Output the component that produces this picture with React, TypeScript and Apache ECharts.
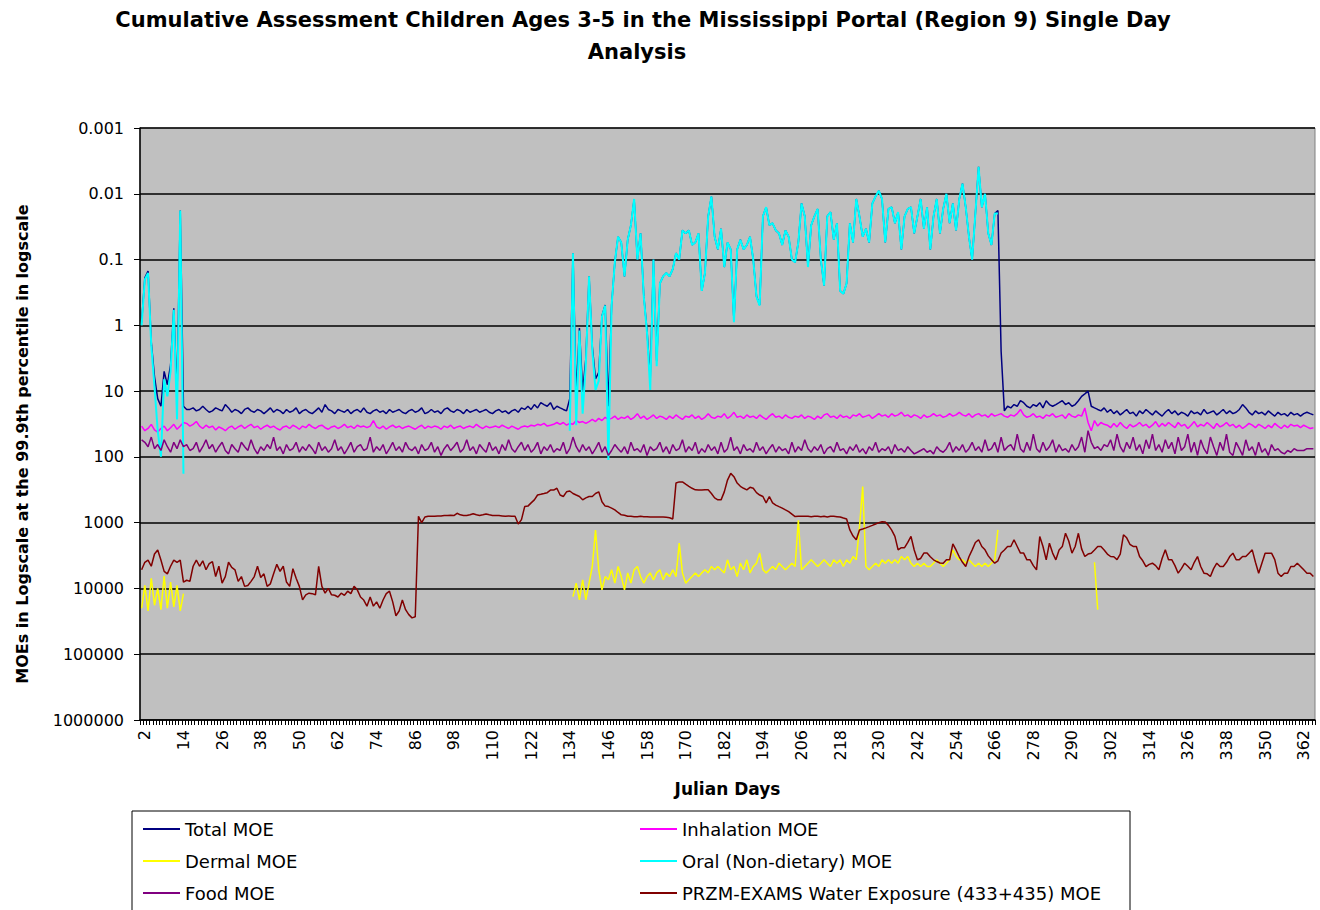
import React, { useEffect, useRef } from "react";
import * as echarts from "echarts";

// ---------- categories ----------
const days: string[] = Array.from({ length: 365 }, (_, i) => String(i + 1));

const gap = (n: number) => Array(n).fill(null);

// ---------- Total MOE ----------
const totalEarly = [0.9, 0.19, 0.15, 1.8, 6, 13, 17, 5, 8, 4, 0.55, 12, 0.018, 17, 19]; // days 1-15
const totalA = [ // days 16-133
  19, 18, 20, 19, 17, 19, 21, 20, 18, 19,
  20, 16, 18, 21, 19, 20, 22, 19, 18, 20,
  21, 19, 20, 22, 20, 18, 21, 19, 20, 22,
  19, 21, 20, 18, 22, 20, 19, 21, 22, 20,
  18, 21, 16, 19, 20, 22, 19, 20, 21, 19,
  22, 20, 19, 21, 18, 21, 22, 20, 19, 21,
  20, 22, 19, 21, 20, 19, 21, 22, 20, 19,
  21, 20, 18, 22, 21, 19, 21, 20, 22, 19,
  18, 20, 21, 19, 20, 22, 19, 21, 20, 19,
  21, 20, 19, 21, 22, 20, 19, 21, 20, 22,
  20, 19, 21, 18, 19, 17, 19, 16, 18, 15,
  16, 17, 15, 19, 17, 18, 19, 20,
];
const totalMid = [ // days 134-268
  13, 0.08, 12, 1.1, 10, 3.2, 0.18, 2.1, 6.5, 5.2,
  0.72, 0.49, 17, 0.49, 0.11, 0.045, 0.055, 0.18, 0.05, 0.03,
  0.012, 0.1, 0.04, 0.36, 1.2, 6.5, 0.1, 3.5, 0.23, 0.18,
  0.16, 0.18, 0.14, 0.08, 0.1, 0.036, 0.04, 0.036, 0.06, 0.055,
  0.04, 0.3, 0.16, 0.022, 0.011, 0.045, 0.07, 0.034, 0.13, 0.055,
  0.07, 0.86, 0.07, 0.05, 0.07, 0.06, 0.045, 0.1, 0.36, 0.49,
  0.022, 0.016, 0.03, 0.028, 0.036, 0.04, 0.06, 0.036, 0.045, 0.1,
  0.11, 0.055, 0.014, 0.022, 0.13, 0.03, 0.022, 0.017, 0.1, 0.25,
  0.022, 0.019, 0.05, 0.028, 0.3, 0.33, 0.23, 0.028, 0.055, 0.012,
  0.022, 0.045, 0.034, 0.055, 0.014, 0.011, 0.009, 0.012, 0.055, 0.017,
  0.016, 0.028, 0.019, 0.07, 0.022, 0.017, 0.016, 0.04, 0.022, 0.012,
  0.034, 0.016, 0.07, 0.022, 0.012, 0.04, 0.017, 0.01, 0.028, 0.014,
  0.036, 0.012, 0.007, 0.016, 0.045, 0.1, 0.02, 0.0039, 0.016, 0.01,
  0.04, 0.06, 0.02, 0.018, 2.5,
];
const totalLate = [ // days 269-365
  20, 17, 18, 16, 17, 14, 15, 17, 18, 16,
  17, 15, 18, 14, 16, 17, 16, 15, 14, 16,
  15, 17, 16, 14, 12, 11, 10, 17, 18, 19,
  20, 18, 21, 19, 22, 20, 23, 21, 19, 22,
  21, 24, 20, 22, 19, 21, 23, 20, 22, 24,
  21, 19, 22, 20, 23, 21, 22, 24, 20, 22,
  21, 23, 19, 22, 21, 20, 23, 21, 19, 22,
  20, 22, 21, 19, 16, 18, 21, 23, 20, 22,
  21, 23, 20, 22, 24, 21, 23, 22, 24, 21,
  23, 22, 24, 22, 21, 22, 23,
];

// ---------- Inhalation MOE (days 1-365) ----------
const inhalation = [
  34, 40, 37, 32, 39, 42, 37, 34, 40, 36,
  32, 38, 34, 30, 31, 34, 32, 29, 34, 37,
  33, 36, 34, 39, 35, 37, 40, 36, 34, 38,
  35, 33, 37, 34, 32, 36, 34, 38, 35, 33,
  36, 34, 37, 39, 35, 34, 37, 33, 35, 38,
  34, 36, 32, 35, 37, 34, 33, 36, 38, 35,
  34, 37, 35, 32, 36, 34, 37, 33, 35, 34,
  36, 34, 28, 35, 37, 34, 38, 35, 33, 36,
  34, 37, 35, 34, 36, 38, 35, 33, 37, 34,
  36, 34, 35, 38, 34, 36, 33, 37, 35, 34,
  37, 35, 34, 36, 32, 35, 37, 34, 36, 35,
  34, 36, 33, 35, 37, 34, 36, 38, 35, 34,
  35, 33, 34, 32, 33, 31, 34, 33, 32, 30,
  32, 30, 33, 31, 32, 28, 30, 29, 31, 29,
  27, 29, 26, 28, 25, 27, 26, 24, 27, 25,
  26, 24, 27, 25, 22, 26, 24, 27, 25, 23,
  26, 24, 25, 27, 24, 26, 23, 25, 27, 24,
  25, 23, 26, 24, 27, 25, 22, 25, 26, 24,
  25, 22, 26, 24, 21, 25, 24, 26, 23, 25,
  24, 26, 23, 25, 27, 24, 22, 25, 24, 26,
  23, 25, 26, 24, 25, 23, 26, 24, 25, 27,
  24, 26, 23, 22, 25, 24, 26, 23, 25, 24,
  26, 23, 24, 22, 25, 24, 23, 26, 24, 22,
  24, 23, 25, 22, 24, 23, 21, 24, 23, 25,
  23, 24, 26, 23, 25, 24, 22, 24, 23, 25,
  24, 22, 24, 23, 21, 23, 24, 22, 25, 23,
  22, 24, 23, 25, 22, 24, 23, 22, 24, 25,
  23, 24, 22, 19, 23, 25, 24, 22, 25, 24,
  26, 23, 24, 22, 25, 24, 23, 26, 22, 24,
  25, 23, 24, 18, 30, 40, 28, 34, 30, 32,
  33, 36, 31, 35, 30, 34, 37, 32, 35, 33,
  30, 34, 32, 36, 33, 29, 35, 31, 34, 30,
  33, 36, 30, 34, 32, 37, 33, 29, 35, 32,
  34, 30, 33, 37, 31, 35, 33, 30, 34, 32,
  36, 33, 37, 34, 31, 33, 36, 32, 34, 37,
  33, 36, 31, 34, 37, 33, 36, 32, 34, 33,
  36, 33, 35, 37, 36,
];

// ---------- Dermal MOE ----------
const dermalEarly = [20000, 9000, 22000, 7000, 18000, 10000, 21000, 6500, 20000, 8000, 19000, 9000, 22000, 12000]; // days 1-14
const dermalMid = [ // days 135-267
  13300, 8300, 14900, 7400, 14900, 8300, 4640, 1290, 5200, 10500,
  6600, 7400, 5200, 8300, 4640, 6600, 10500, 5800, 8300, 5200,
  4640, 6600, 8300, 6600, 5800, 7400, 5800, 5200, 7400, 5800,
  6600, 5200, 6600, 2050, 5800, 8300, 7400, 6600, 5800, 6600,
  5800, 5200, 5800, 4640, 5200, 4640, 5200, 5800, 3670, 5200,
  4640, 6600, 4130, 5200, 3670, 5800, 4640, 4130, 2900, 5200,
  5800, 5200, 4640, 5200, 4130, 4640, 5200, 4640, 4130, 4640,
  920, 5200, 4640, 4130, 3670, 4130, 4640, 4130, 3670, 4130,
  4640, 3670, 4130, 3670, 4640, 3670, 4130, 3270, 3670, 1160,
  282, 4640, 5200, 4640, 4130, 4640, 3670, 4130, 3670, 4130,
  3670, 4130, 3270, 3670, 3270, 4130, 4640, 4130, 4640, 4130,
  4640, 4640, 4130, 3670, 4130, 4640, 4130, 3670, 2590, 3270,
  3670, 3670, 4130, 3670, 4130, 4640, 4130, 4640, 4130, 4640,
  4130, 3670, 1290,
];
const dermalLate = [4000, 21000]; // days 297-298

// ---------- Oral (Non-dietary) MOE ----------
const oralEarly = [1.0, 0.2, 0.16, 2, 8.5, 40, 99, 6.6, 12, 5, 0.58, 27, 0.018, 180]; // days 1-14
const oralMid = [ // days 134-267
  40, 0.08, 33, 1.2, 22, 3.8, 0.18, 2.4, 9.6, 7,
  0.74, 0.5, 111, 0.5, 0.11, 0.045, 0.055, 0.18, 0.05, 0.03,
  0.012, 0.1, 0.04, 0.37, 1.3, 9.6, 0.1, 4.2, 0.23, 0.18,
  0.16, 0.18, 0.14, 0.08, 0.1, 0.036, 0.04, 0.036, 0.06, 0.055,
  0.04, 0.3, 0.16, 0.022, 0.011, 0.045, 0.07, 0.034, 0.13, 0.055,
  0.07, 0.9, 0.07, 0.05, 0.07, 0.06, 0.045, 0.1, 0.37, 0.5,
  0.022, 0.016, 0.03, 0.028, 0.036, 0.04, 0.06, 0.036, 0.045, 0.1,
  0.11, 0.055, 0.014, 0.022, 0.13, 0.03, 0.022, 0.017, 0.1, 0.25,
  0.022, 0.019, 0.05, 0.028, 0.3, 0.33, 0.23, 0.028, 0.055, 0.012,
  0.022, 0.045, 0.034, 0.055, 0.014, 0.011, 0.009, 0.012, 0.055, 0.017,
  0.016, 0.028, 0.019, 0.07, 0.022, 0.017, 0.016, 0.04, 0.022, 0.012,
  0.034, 0.016, 0.07, 0.022, 0.012, 0.04, 0.017, 0.01, 0.028, 0.014,
  0.036, 0.012, 0.007, 0.016, 0.045, 0.1, 0.02, 0.0039, 0.016, 0.01,
  0.04, 0.06, 0.02, 0.02,
];

// ---------- Food MOE (days 1-365) ----------
const food = [
  55, 60, 70, 50, 75, 65, 80, 55, 70, 85,
  60, 75, 55, 70, 65, 80, 75, 60, 85, 70,
  55, 75, 65, 85, 70, 60, 80, 90, 65, 75,
  85, 60, 70, 80, 55, 75, 90, 70, 80, 65,
  75, 50, 80, 70, 90, 65, 80, 75, 60, 85,
  70, 80, 65, 75, 90, 60, 80, 70, 85, 75,
  55, 80, 70, 90, 75, 60, 85, 70, 65, 80,
  75, 50, 85, 70, 80, 65, 90, 75, 60, 80,
  70, 85, 60, 75, 80, 70, 90, 65, 80, 75,
  60, 85, 70, 95, 75, 65, 80, 70, 60, 85,
  75, 55, 80, 70, 90, 65, 75, 85, 60, 80,
  70, 90, 65, 80, 55, 75, 85, 70, 60, 80,
  65, 85, 75, 60, 90, 70, 80, 65, 85, 75,
  80, 60, 90, 75, 50, 70, 85, 65, 80, 70,
  90, 75, 60, 85, 70, 95, 80, 65, 75, 85,
  70, 90, 60, 80, 75, 85, 65, 95, 70, 80,
  75, 60, 85, 70, 90, 65, 80, 75, 55, 85,
  70, 80, 60, 90, 75, 85, 65, 80, 70, 90,
  60, 85, 75, 50, 80, 70, 90, 65, 80, 75,
  85, 60, 80, 70, 90, 75, 65, 85, 70, 80,
  75, 90, 60, 85, 70, 80, 55, 75, 85, 70,
  80, 65, 90, 75, 70, 85, 60, 80, 75, 90,
  70, 80, 65, 85, 75, 90, 70, 80, 60, 85,
  75, 80, 70, 90, 65, 80, 75, 85, 70, 80,
  90, 85, 80, 75, 85, 80, 90, 70, 80, 85,
  75, 60, 85, 70, 80, 65, 85, 75, 60, 80,
  70, 85, 55, 80, 75, 60, 85, 50, 80, 70,
  65, 80, 45, 75, 85, 60, 80, 45, 75, 85,
  60, 80, 70, 55, 85, 65, 80, 75, 85, 65,
  80, 70, 50, 85, 40, 60, 75, 70, 80, 65,
  70, 55, 80, 45, 70, 85, 60, 75, 50, 80,
  65, 90, 55, 75, 45, 80, 65, 85, 55, 75,
  60, 90, 50, 80, 70, 45, 85, 60, 95, 55,
  75, 90, 50, 70, 95, 60, 80, 45, 85, 95,
  60, 75, 95, 55, 80, 70, 95, 60, 85, 75,
  95, 65, 80, 75, 85, 90, 80, 85, 75, 80,
  80, 80, 75, 75, 75,
];

// ---------- PRZM-EXAMS Water Exposure (days 1-365) ----------
const przm = [
  5200, 4000, 3700, 4600, 3000, 2600, 3700, 5500, 6000, 4600,
  3700, 4000, 3700, 8000, 7500, 7800, 4600, 3700, 4600, 3800,
  5200, 4200, 3900, 6600, 4600, 8300, 6600, 4000, 4800, 5200,
  7800, 6600, 9300, 9000, 7800, 6600, 4600, 6800, 6000, 9300,
  8500, 6000, 4300, 5500, 4600, 8000, 9300, 5000, 7000, 9300,
  14900, 12500, 11800, 12000, 12500, 4600, 9300, 11800, 10000, 12500,
  12700, 13500, 11800, 12700, 11000, 12000, 9300, 10500, 13500, 15000,
  18600, 13500, 18600, 16000, 20000, 15000, 12000, 11000, 16000, 26000,
  22000, 15000, 21000, 25000, 28000, 27000, 800, 1000, 820, 800,
  800, 800, 790, 790, 780, 780, 770, 780, 720, 760,
  780, 780, 760, 730, 760, 780, 760, 740, 760, 780,
  780, 780, 790, 800, 790, 800, 800, 1050, 900, 570,
  560, 500, 450, 380, 370, 360, 350, 320, 320, 300,
  380, 400, 340, 330, 360, 380, 400, 450, 420, 400,
  400, 360, 340, 480, 560, 570, 600, 640, 700, 760,
  770, 800, 800, 810, 810, 800, 810, 810, 820, 820,
  820, 820, 820, 830, 840, 880, 250, 240, 240, 260,
  280, 300, 317, 320, 320, 317, 317, 360, 420, 450,
  450, 340, 225, 178, 200, 250, 280, 300, 317, 290,
  300, 350, 380, 400, 500, 400, 500, 540, 570, 600,
  640, 680, 740, 807, 800, 800, 800, 800, 810, 800,
  800, 810, 800, 820, 800, 800, 810, 820, 850, 880,
  1290, 1600, 1820, 1290, 1250, 1200, 1150, 1100, 1050, 1000,
  970, 980, 1100, 1300, 1620, 2590, 2400, 2400, 2000, 1620,
  2600, 3670, 3500, 2900, 2900, 3300, 3670, 3900, 4100, 4130,
  3670, 3670, 2100, 2600, 3300, 4000, 4640, 3300, 2590, 2000,
  1820, 2300, 2590, 3200, 3670, 4130, 3800, 2900, 2600, 2300,
  2300, 1820, 2300, 2900, 2900, 3670, 3670, 4500, 5210, 1620,
  2300, 3670, 2050, 2900, 3670, 2600, 2310, 1450, 1900, 2910,
  2300, 1450, 2500, 3270, 3000, 2910, 2600, 2310, 2310, 2600,
  3000, 3270, 3300, 3650, 3000, 1530, 1700, 2130, 2300, 2310,
  3270, 3800, 4640, 4300, 4130, 4500, 5210, 3500, 2590, 3650,
  3650, 4500, 5860, 5000, 4130, 4600, 5210, 4000, 3270, 4640,
  5860, 6000, 6590, 5000, 4130, 4640, 4640, 4000, 3270, 2910,
  3650, 3650, 3270, 3270, 2910, 2590, 4000, 5860, 4130, 2910,
  2910, 2910, 3650, 5860, 6590, 5860, 5860, 4640, 4640, 4130,
  4640, 5210, 5860, 5860, 6590,
];

// ---------- tick labels ----------
const yTicks = ["0.001", "0.01", "0.1", "1", "10", "100", "1000", "10000", "100000", "1000000"];

const total = [...totalEarly, ...totalA, ...totalMid, ...totalLate];
const dermal = [...dermalEarly, ...gap(120), ...dermalMid, ...gap(29), ...dermalLate, ...gap(67)];
const oral = [...oralEarly, ...gap(119), ...oralMid, ...gap(98)];

const FONT = "'DejaVu Sans', Arial, sans-serif";

const seriesDefs = [
  { name: "Total MOE", data: total, color: "#000080", width: 1.5 },
  { name: "Inhalation MOE", data: inhalation, color: "#FF00FF", width: 1.5 },
  { name: "Dermal MOE", data: dermal, color: "#FFFF00", width: 1.5 },
  { name: "Oral (Non-dietary) MOE", data: oral, color: "#00FFFF", width: 2 },
  { name: "Food MOE", data: food, color: "#800080", width: 1.5 },
  { name: "PRZM-EXAMS Water Exposure (433+435) MOE", data: przm, color: "#800000", width: 1.5 },
];

export default function App() {
  const ref = useRef<HTMLDivElement>(null);
  useEffect(() => {
    if (!ref.current) return;
    const chart = echarts.init(ref.current, null, { renderer: "svg" });
    const legendCommon = {
      orient: "vertical" as const,
      top: 814,
      height: 96,
      padding: 0,
      itemWidth: 37,
      itemHeight: 2,
      itemGap: 2,
      icon: "rect",
      selectedMode: false,
      textStyle: { color: "#000", fontSize: 18, fontFamily: FONT, lineHeight: 30 },
    };
    chart.setOption({
      animation: false,
      backgroundColor: "#ffffff",
      textStyle: { fontFamily: FONT },
      grid: {
        left: 140,
        top: 128,
        width: 1175,
        height: 592,
        show: true,
        backgroundColor: "#c0c0c0",
        borderColor: "#808080",
        borderWidth: 1,
        containLabel: false,
      },
      legend: [
        { ...legendCommon, left: 143, data: ["Total MOE", "Dermal MOE", "Food MOE"] },
        {
          ...legendCommon,
          left: 640,
          data: ["Inhalation MOE", "Oral (Non-dietary) MOE", "PRZM-EXAMS Water Exposure (433+435) MOE"],
        },
      ],
      xAxis: {
        type: "category",
        data: days,
        boundaryGap: true,
        name: "Julian Days",
        nameLocation: "middle",
        nameGap: 60,
        nameTextStyle: { color: "#000", fontSize: 17, fontWeight: "bold", fontFamily: FONT },
        axisLine: { show: true, lineStyle: { color: "#000", width: 1.5 } },
        axisTick: { show: true, interval: 0, length: 5, lineStyle: { color: "#000", width: 1 } },
        axisLabel: {
          interval: (i: number) => i % 12 === 1,
          rotate: 90,
          fontSize: 16,
          color: "#000",
          fontFamily: FONT,
          margin: 10,
        },
        splitLine: { show: false },
      },
      yAxis: {
        type: "log",
        logBase: 10,
        min: 0.001,
        max: 1000000,
        inverse: true,
        splitNumber: 9,
        axisLine: { show: true, lineStyle: { color: "#000", width: 1.5 } },
        axisTick: { show: true, length: 6, lineStyle: { color: "#000" } },
        axisLabel: {
          color: "#000",
          fontSize: 16,
          fontFamily: FONT,
          margin: 16,
          formatter: (v: number) => {
            const e = Math.round(Math.log10(v));
            return yTicks[e + 3] ?? String(v);
          },
        },
        splitLine: { show: true, lineStyle: { color: "#000", width: 1.5 } },
      },
      graphic: [
        {
          type: "text",
          x: 643,
          y: 20,
          style: {
            text: "Cumulative Assessment Children Ages 3-5 in the Mississippi Portal (Region 9) Single Day",
            font: `bold 21px ${FONT}`,
            fill: "#000",
            textAlign: "center",
            textVerticalAlign: "middle",
          },
        },
        {
          type: "text",
          x: 637,
          y: 52,
          style: {
            text: "Analysis",
            font: `bold 21px ${FONT}`,
            fill: "#000",
            textAlign: "center",
            textVerticalAlign: "middle",
          },
        },
        {
          type: "text",
          x: 22,
          y: 444,
          rotation: Math.PI / 2,
          style: {
            text: "MOEs in Logscale at the 99.9th percentile in logscale",
            font: `bold 16px ${FONT}`,
            fill: "#000",
            textAlign: "center",
            textVerticalAlign: "middle",
          },
        },
        {
          type: "rect",
          z: -1,
          shape: { x: 132, y: 811, width: 998, height: 110 },
          style: { fill: "#ffffff", stroke: "#000", lineWidth: 1 },
        },
      ],
      series: seriesDefs.map((s) => ({
        name: s.name,
        type: "line",
        data: s.data,
        symbol: "none",
        connectNulls: false,
        color: s.color,
        lineStyle: { color: s.color, width: s.width },
        emphasis: { disabled: true },
      })),
    });
    return () => chart.dispose();
  }, []);
  return (
    <div
      ref={ref}
      style={{ position: "fixed", left: 0, top: 0, width: 1320, height: 910, background: "#fff" }}
    />
  );
}
